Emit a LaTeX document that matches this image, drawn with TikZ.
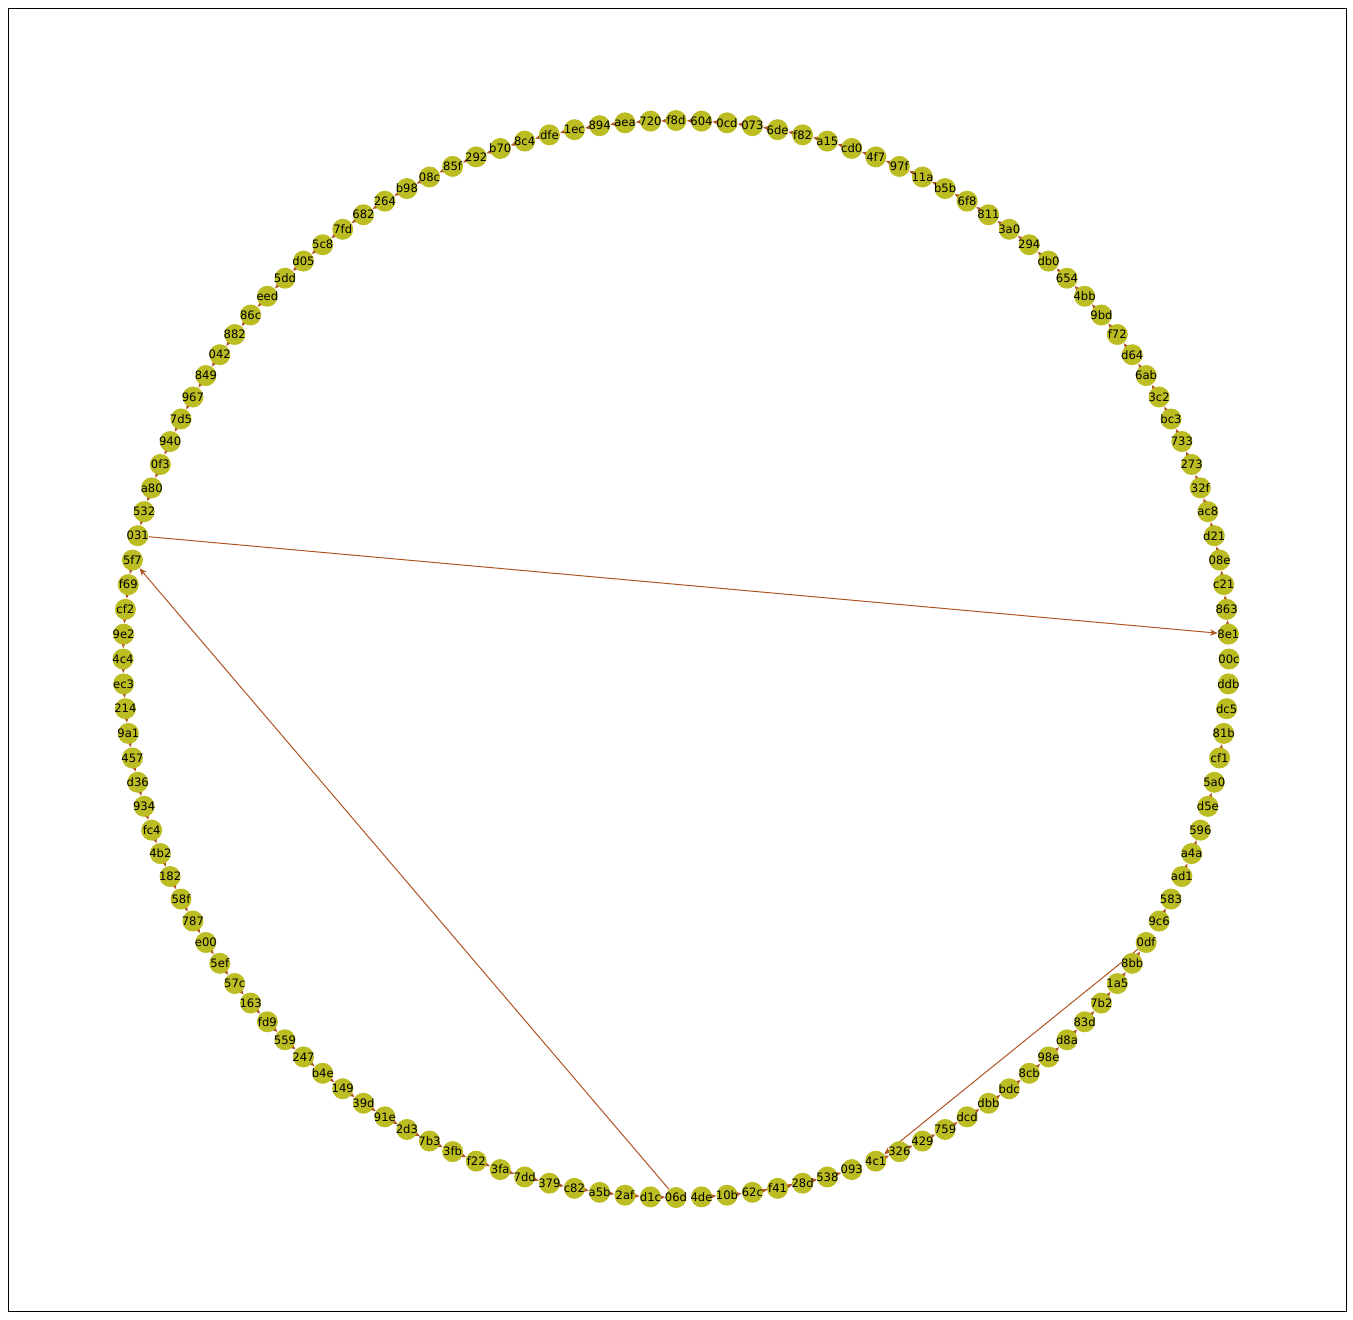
\documentclass[tikz,border=0pt]{standalone}
\usepackage{fontspec}
\setmainfont{DejaVu Sans}
\usetikzlibrary{arrows.meta}
\definecolor{nodeolive}{RGB}{188,189,34}
\definecolor{edgebrown}{RGB}{176,84,36}
\pgfdeclarelayer{bg}
\pgfsetlayers{bg,main}
\tikzset{
  vtx/.style={circle,fill=nodeolive,minimum size=10.5pt,inner sep=0pt},
  lbl/.style={font=\fontsize{5.8}{6}\selectfont,inner sep=0pt,text=black},
  link/.style={draw=edgebrown,line width=0.5pt,-{Stealth[length=3.8pt,width=3.2pt]}}
}
\begin{document}
\begin{tikzpicture}[x=0.5pt,y=-0.5pt]
  \useasboundingbox (0,0) rectangle (1353,1319);
  \draw[line width=0.5pt] (8,8) rectangle (1346,1311); %%% frame
  %%% nodes on the circle
  \foreach \nm [count=\i from 0] in {00c,8e1,863,c21,08e,d21,ac8,32f,273,733,bc3,3c2,6ab,d64,f72,9bd,4bb,654,db0,294,3a0,811,6f8,b5b,11a,97f,4f7,cd0,a15,f82,6de,073,0cd,604,f8d,720,aea,894,1ec,dfe,8c4,b70,292,85f,08c,b98,264,682,7fd,5c8,d05,5dd,eed,86c,882,042,849,967,7d5,940,0f3,a80,532,031,5f7,f69,cf2,9e2,4c4,ec3,214,9a1,457,d36,934,fc4,4b2,182,58f,787,e00,5ef,57c,163,fd9,559,247,b4e,149,39d,91e,2d3,7b3,3fb,f22,3fa,7dd,379,c82,a5b,2af,d1c,06d,4de,10b,62c,f41,28d,538,093,4c1,326,429,759,dcd,dbb,bdc,8cb,98e,d8a,83d,7b2,1a5,8bb,0df,9c6,583,ad1,a4a,596,d5e,5a0,cf1,81b,dc5,ddb}
    \node[vtx,label={[lbl]center:\nm}] (\nm) at ({676+553*cos(360/136*\i)},{659-538.5*sin(360/136*\i)}) {};
  %%% edges
  \begin{pgfonlayer}{bg}
    \foreach \nm [remember=\nm as \last (initially 8e1)] in {863,c21,08e,d21,ac8,32f,273,733,bc3,3c2,6ab,d64,f72,9bd,4bb,654,db0,294,3a0,811,6f8,b5b,11a,97f,4f7,cd0,a15,f82,6de,073,0cd,604,f8d,720,aea,894,1ec,dfe,8c4,b70,292,85f,08c,b98,264,682,7fd,5c8,d05,5dd,eed,86c,882,042,849,967,7d5,940,0f3,a80,532,031}
      \draw[link] (\last) -- (\nm);
    \draw[link] (031) -- (8e1);
    \foreach \nm [remember=\nm as \last (initially 5f7)] in {f69,cf2,9e2,4c4,ec3,214,9a1,457,d36,934,fc4,4b2,182,58f,787,e00,5ef,57c,163,fd9,559,247,b4e,149,39d,91e,2d3,7b3,3fb,f22,3fa,7dd,379,c82,a5b,2af,d1c,06d}
      \draw[link] (\last) -- (\nm);
    \draw[link] (06d) -- (5f7);
    \foreach \nm [remember=\nm as \last (initially 4de)] in {10b,62c,f41,28d,538,093}
      \draw[link] (\last) -- (\nm);
    \draw[link] (62c) -- (538);
    \foreach \nm [remember=\nm as \last (initially 4c1)] in {326,429,759,dcd,dbb,bdc,8cb,98e,d8a,83d,7b2,1a5,8bb,0df}
      \draw[link] (\last) -- (\nm);
    \draw[link] (0df) -- (4c1);
    \draw[link] (9c6) -- (583);
    \draw[link] (ad1) -- (a4a);
    \draw[link] (a4a) -- (596);
    \draw[link] (d5e) -- (5a0);
    \draw[link] (cf1) -- (81b);
  \end{pgfonlayer}
\end{tikzpicture}
\end{document}
